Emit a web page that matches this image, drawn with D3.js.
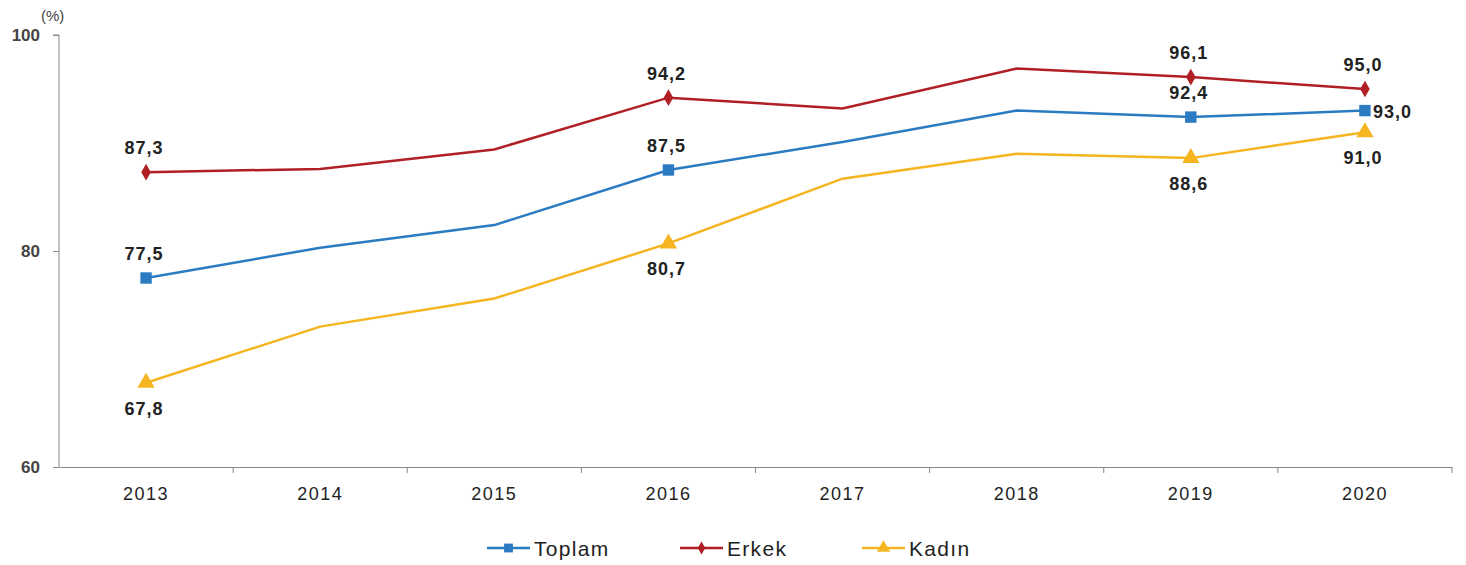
<html>
<head>
<script src="https://cdnjs.cloudflare.com/ajax/libs/d3/7.8.5/d3.min.js"></script>
<style>
    body { margin: 0; background: #fff; }
    text { font-family: "Liberation Sans", Arial, sans-serif; }
</style>
</head>
<body>
<script>
const years = ['2013','2014','2015','2016','2017','2018','2019','2020'];
const toplam = [77.5, 80.3, 82.4, 87.5, 90.1, 93.0, 92.4, 93.0];
const erkek  = [87.3, 87.6, 89.4, 94.2, 93.2, 96.9, 96.1, 95.0];
const kadin  = [67.8, 73.0, 75.6, 80.7, 86.7, 89.0, 88.6, 91.0];
const seriesNames = ['Toplam', 'Erkek', 'Kadın'];
const yTicks = [60, 80, 100];
// which years get a value label
const labelYears = ['2013','2016','2019','2020'];

const w = 1466, h = 565;
const pLeft = 59, pRight = 1452, pTop = 35, pBottom = 467;

const svg = d3.select('body').append('svg').attr('width', w).attr('height', h);

const x = d3.scaleBand().domain(years).range([pLeft, pRight]);
const y = d3.scaleLinear().domain([60, 100]).range([pBottom, pTop]);

const series = [
    {name: seriesNames[0], values: toplam, color: '#2b7bc2', symbol: d3.symbolSquare, size: 130},
    {name: seriesNames[1], values: erkek, color: '#b01f24', symbol: d3.symbolDiamond, size: 80},
    {name: seriesNames[2], values: kadin, color: '#f4b521', symbol: d3.symbolTriangle, size: 130}
];

// y axis
const yAxis = d3.axisLeft(y).tickValues(yTicks).tickSize(6).tickFormat(d3.format('d'));
const gy = svg.append('g').attr('transform', 'translate(' + pLeft + ',0)').call(yAxis);
gy.select('.domain').attr('stroke', '#888').attr('d', 'M-6,' + pTop + 'H0V' + pBottom);
gy.selectAll('line').attr('stroke', '#888');
gy.selectAll('text').attr('fill', '#444').style('font-size', '17px')
    .style('font-weight', 'bold').attr('x', -19);

svg.append('text').attr('x', 41).attr('y', 21).attr('fill', '#444')
    .style('font-size', '15px').text('(%)');

// x axis
const gx = svg.append('g').attr('transform', 'translate(0,' + pBottom + ')')
    .call(d3.axisBottom(x).tickSize(0));
gx.select('.domain').attr('stroke', '#888');
gx.selectAll('text').attr('fill', '#222').attr('y', 20)
    .style('font-size', '18px').style('letter-spacing', '1.5px');
// separators between categories
gx.selectAll('.sep').data(years)
    .enter().append('line')
    .attr('x1', d => x(d) + x.bandwidth())
    .attr('x2', d => x(d) + x.bandwidth())
    .attr('y1', 0).attr('y2', 6).attr('stroke', '#888');

const line = d3.line().x((d, i) => x(years[i]) + x.bandwidth() / 2).y(d => y(d));

series.forEach(s => {
    svg.append('path').datum(s.values).attr('d', line)
        .attr('fill', 'none').attr('stroke', s.color).attr('stroke-width', 2.5);
    svg.selectAll(null).data(s.values.map((v, i) => ({v: v, yr: years[i]})).filter(d => labelYears.includes(d.yr)))
        .enter().append('path')
        .attr('d', d3.symbol().type(s.symbol).size(s.size))
        .attr('transform', d => 'translate(' + (x(d.yr) + x.bandwidth() / 2) + ',' + y(d.v) + ')')
        .attr('fill', s.color);
});

// value labels
const fmt = v => v.toFixed(1).replace('.', ',');
function addLabel(val, yr, dx, dy, anchor) {
    svg.append('text')
        .attr('x', x(yr) + x.bandwidth() / 2 + dx)
        .attr('y', y(val) + dy)
        .attr('text-anchor', anchor)
        .attr('fill', '#222')
        .style('font-size', '18px').style('font-weight', 'bold')
        .style('letter-spacing', '1px')
        .text(fmt(val));
}
labelYears.forEach(yr => {
    const i = years.indexOf(yr);
    addLabel(erkek[i], yr, -2, -18, 'middle');
    if (yr === '2020') addLabel(toplam[i], yr, 8, 7, 'start');
    else addLabel(toplam[i], yr, -2, -18, 'middle');
    addLabel(kadin[i], yr, -2, 32, 'middle');
});

// legend
const legendX = [487, 680, 862];
const lg = svg.selectAll('.lg').data(series).enter().append('g')
    .attr('transform', (d, i) => 'translate(' + legendX[i] + ',548)');
lg.append('line').attr('x1', 0).attr('x2', 43).attr('stroke', d => d.color).attr('stroke-width', 2.5);
lg.append('path').attr('d', d => d3.symbol().type(d.symbol).size(d.size * 0.6)())
    .attr('transform', 'translate(21.5,0)').attr('fill', d => d.color);
lg.append('text').attr('x', 47).attr('y', 8).attr('fill', '#222')
    .style('font-size', '21px').style('letter-spacing', '1.3px').text(d => d.name);
</script>
</body>
</html>
